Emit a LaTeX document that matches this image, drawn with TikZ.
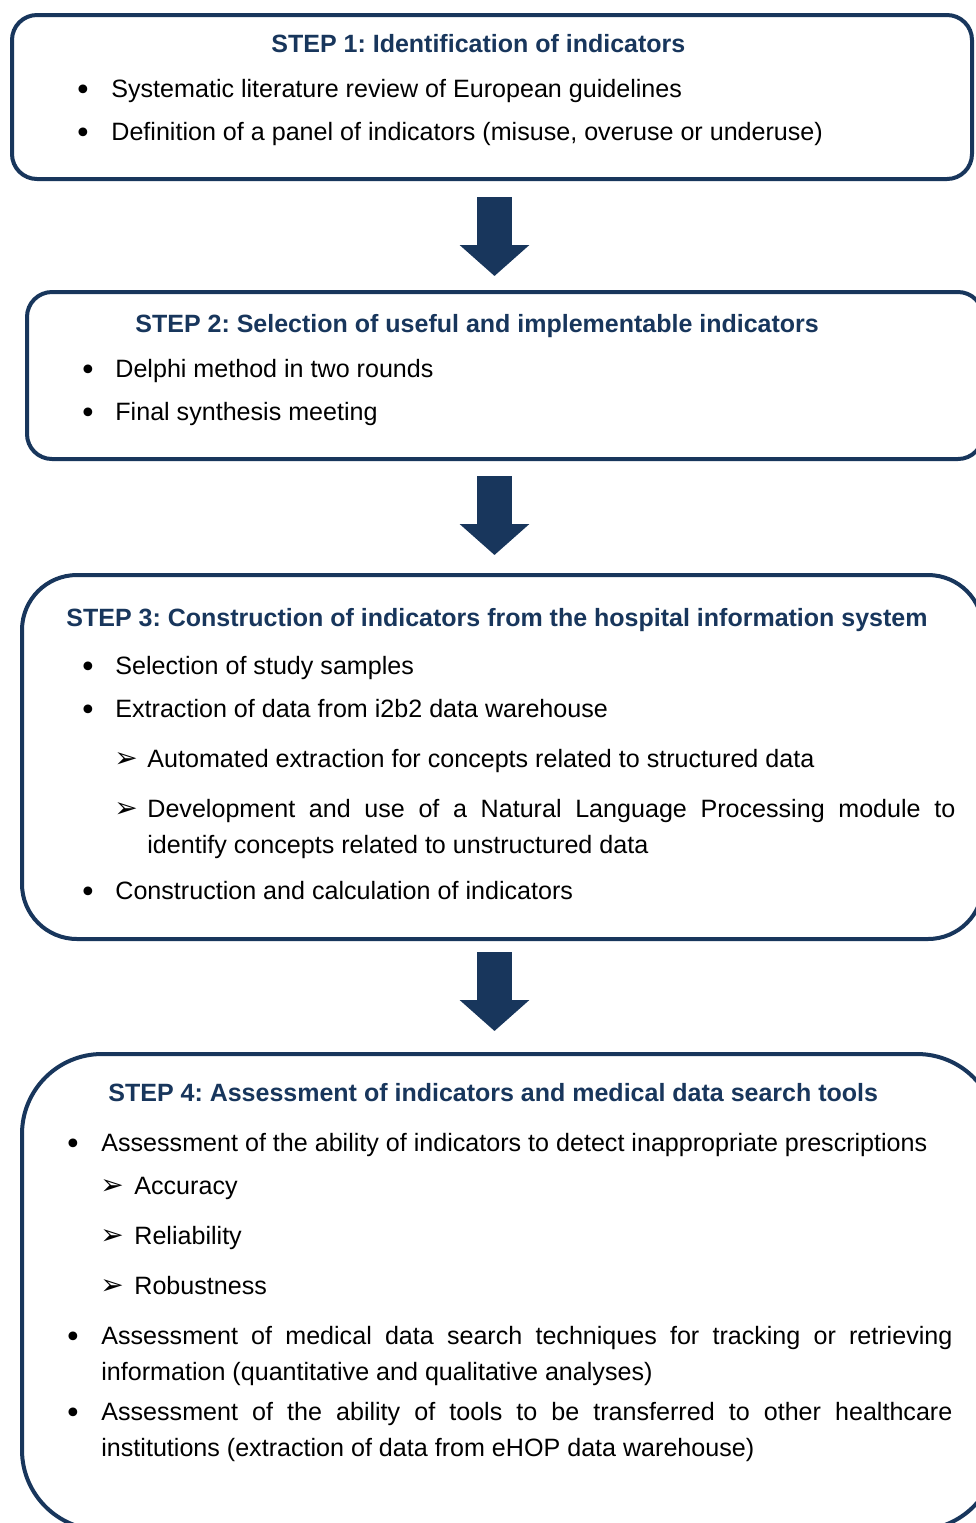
\documentclass[tikz,border=0pt]{standalone}
\usepackage{fontspec}
\setmainfont{Liberation Sans}
\newfontfamily\symfont{DejaVu Sans}
\usetikzlibrary{arrows.meta}
\definecolor{navy}{RGB}{24,54,92}
\newcommand{\arr}{{\symfont\fontsize{14}{14}\selectfont ➢}}
\newcommand{\bul}{{\symfont\fontsize{15}{14}\selectfont •}}
\frenchspacing
\tikzset{
  box/.style={draw=navy, line width=2pt, inner sep=0pt, outer sep=0pt, fill=none},
  ttl/.style={anchor=base west, inner sep=0pt, text=navy, font=\fontsize{12.5}{14}\selectfont\bfseries},
  txt/.style={anchor=base west, inner sep=0pt, font=\fontsize{12.55}{14}\selectfont},
  bl/.style={anchor=base west, inner sep=0pt, yshift=-1.5pt, xshift=-1pt},
  ar/.style={anchor=base west, inner sep=0pt, yshift=0pt, xshift=-0.5pt},
  blk/.style={navy, line width=17.5pt, -{Triangle[width=34pt,length=15.5pt]}},
}
\begin{document}
\begin{tikzpicture}[x=0.5pt,y=-0.5pt]
\useasboundingbox (0,0) rectangle (976,1523);
\clip (0,0) rectangle (976,1523);
\fill[white] (0,0) rectangle (976,1523);
% boxes
\node[box, rounded corners=12.5pt, minimum width=480pt, minimum height=82pt] (b1) at (492,97) {};
\node[box, rounded corners=12.5pt, minimum width=478pt, minimum height=83.5pt] (b2) at (505,375.5) {};
\node[box, rounded corners=27.5pt, minimum width=480.5pt, minimum height=182pt] (b3) at (502.5,757) {};
\node[box, rounded corners=40pt, minimum width=487.5pt, minimum height=238pt] (b4) at (509.5,1292) {};
% arrows
\coordinate (ax) at (494.5,0);
\draw[blk, shorten <=9pt, shorten >=8pt] (b1.south -| ax) -- (b2.north -| ax);
\draw[blk, shorten <=8.5pt, shorten >=10pt] (b2.south -| ax) -- (b3.north -| ax);
\draw[blk, shorten <=6.5pt, shorten >=11.5pt] (b3.south -| ax) -- (b4.north -| ax);
% step 1
\node[ttl] (t1) at (271,52) {STEP 1: Identification of indicators};
\node[bl] (t1a) at (76,97) {\bul};
\node[txt] (t1b) at (111,97) {Systematic literature review of European guidelines};
\node[bl] (t1c) at (76,140) {\bul};
\node[txt] (t1d) at (111,140) {Definition of a panel of indicators (misuse, overuse or underuse)};
% step 2
\node[ttl] (t2) at (135,332) {STEP 2: Selection of useful and implementable indicators};
\node[bl] (t2a) at (81,377) {\bul};
\node[txt] (t2b) at (115,377) {Delphi method in two rounds};
\node[bl] (t2c) at (81,420) {\bul};
\node[txt] (t2d) at (115,420) {Final synthesis meeting};
% step 3
\node[ttl] (t3) at (66,626) {STEP 3: Construction of indicators from the hospital information system};
\node[bl] (t3a) at (81,674) {\bul};
\node[txt] (t3b) at (115,674) {Selection of study samples};
\node[bl] (t3c) at (81,717) {\bul};
\node[txt] (t3d) at (115,717) {Extraction of data from i2b2 data warehouse};
\node[ar] (t3e) at (115,767) {\arr};
\node[txt] (t3f) at (147,767) {Automated extraction for concepts related to structured data};
\node[ar] (t3g) at (115,817) {\arr};
\node[txt] (t3h) at (147,817) {\makebox[404pt][s]{Development and use of a Natural Language Processing module to}};
\node[txt] (t3i) at (147,853) {identify concepts related to unstructured data};
\node[bl] (t3j) at (81,899) {\bul};
\node[txt] (t3k) at (115,899) {Construction and calculation of indicators};
% step 4
\node[ttl] (t4) at (108,1101) {STEP 4: Assessment of indicators and medical data search tools};
\node[bl] (t4a) at (66,1151) {\bul};
\node[txt] (t4b) at (101,1151) {Assessment of the ability of indicators to detect inappropriate prescriptions};
\node[ar] (t4c) at (101,1194) {\arr};
\node[txt] (t4d) at (134,1194) {Accuracy};
\node[ar] (t4e) at (101,1244) {\arr};
\node[txt] (t4f) at (134,1244) {Reliability};
\node[ar] (t4g) at (101,1294) {\arr};
\node[txt] (t4h) at (134,1294) {Robustness};
\node[bl] (t4i) at (66,1344) {\bul};
\node[txt] (t4j) at (101,1344) {\makebox[425.5pt][s]{Assessment of medical data search techniques for tracking or retrieving}};
\node[txt] (t4k) at (101,1380) {information (quantitative and qualitative analyses)};
\node[bl] (t4l) at (66,1420) {\bul};
\node[txt] (t4m) at (101,1420) {\makebox[425.5pt][s]{Assessment of the ability of tools to be transferred to other healthcare}};
\node[txt] (t4n) at (101,1456) {institutions (extraction of data from eHOP data warehouse)};
\end{tikzpicture}
\end{document}
